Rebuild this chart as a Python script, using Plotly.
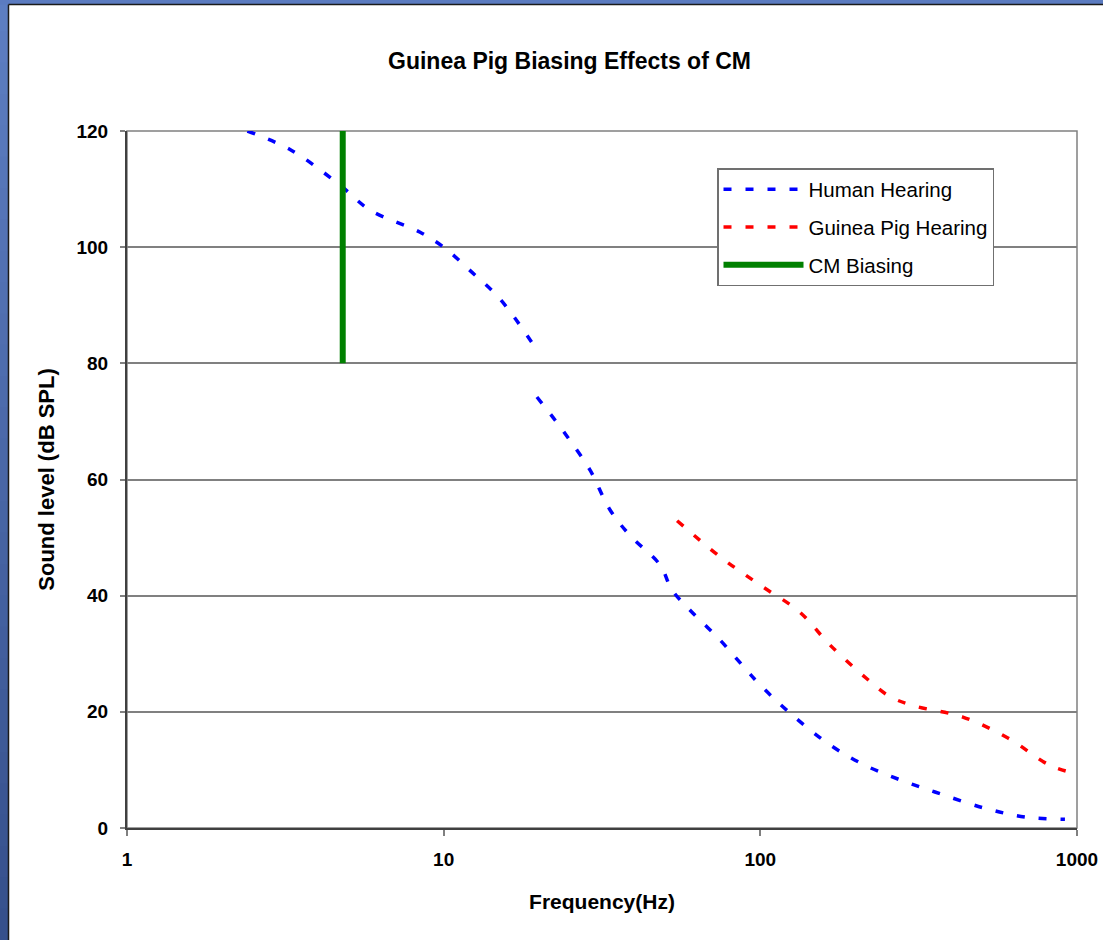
import plotly.graph_objects as go

# ---- data ----
human_freq = [2.4, 3.3, 4.7, 5.85, 8.4, 10, 12.1, 15.1, 19.7, None,
              19.7, 22.5, 25.0, 29.0, 33.5, 38.7, 48.2, 52.6, 60, 74.5,
              89.4, 100, 124, 166, 214, 276, 356, 512, 685, 916]
human_db = [120, 116.7, 110.7, 106.4, 102.6, 100, 96, 91, 82.3, None,
            74.2, 70.2, 66.8, 61.6, 54.8, 50.4, 45.3, 41, 37.5, 32.4,
            27.5, 24.6, 19.8, 14.3, 10.8, 8.3, 6.2, 3.4, 1.9, 1.5]

pig_freq = [54.6, 74.6, 100, 133, 166, 217, 257, 308, 436, 605, 821, 1000]
pig_db = [52.9, 46.7, 41.8, 37.2, 31.5, 25.7, 22.6, 21.0, 19.1, 15.5, 10.8, 9.3]

cm_freq = [4.8, 4.8]
cm_db = [80, 120]

x_ticks = [1, 10, 100, 1000]
x_ticktext = ["1", "10", "100", "1000"]

# ---- geometry helpers (pixel -> paper) ----
W, H = 1103, 940
L, R, T, B = 127, 26, 131, 112
PW, PH = W - L - R, H - T - B


def px(x):
    return (x - L) / PW


def py(y):
    return (H - B - y) / PH


FONT = "Liberation Sans, Arial, sans-serif"

fig = go.Figure()
fig.add_trace(go.Scatter(
    x=human_freq, y=human_db, mode="lines", name="Human Hearing",
    line=dict(color="#0000FF", width=3.5, dash="8px,14px", shape="spline"),
    connectgaps=False, legendgroup="a"))
fig.add_trace(go.Scatter(
    x=pig_freq, y=pig_db, mode="lines", name="Guinea Pig Hearing",
    line=dict(color="#FF0000", width=3.5, dash="8px,14px", shape="spline"),
    legendgroup="b"))
fig.add_trace(go.Scatter(
    x=cm_freq, y=cm_db, mode="lines", name="CM Biasing",
    line=dict(color="#008000", width=6), legendgroup="c"))

shapes = []
# left blue gradient strip
n = 30
c0 = (0x5d, 0x7e, 0xc2)
c1 = (0x36, 0x50, 0x8c)
for i in range(n):
    t = i / (n - 1)
    col = "rgb(%d,%d,%d)" % tuple(round(a + (b - a) * t) for a, b in zip(c0, c1))
    shapes.append(dict(type="rect", xref="paper", yref="paper",
                       x0=px(0), x1=px(8.5),
                       y0=py(H * i / n), y1=py(H * (i + 1) / n + 1),
                       fillcolor=col, line=dict(width=0), layer="below"))
# top blue strip
shapes.append(dict(type="rect", xref="paper", yref="paper",
                   x0=px(0), x1=px(W), y0=py(0), y1=py(4.5),
                   fillcolor="#5b7bc0", line=dict(width=0), layer="below"))
# black borders of the white panel
shapes.append(dict(type="line", xref="paper", yref="paper",
                   x0=px(8.5), x1=px(8.5), y0=py(4.5), y1=py(H),
                   line=dict(color="#1a1a1a", width=1.5), layer="below"))
shapes.append(dict(type="line", xref="paper", yref="paper",
                   x0=px(8.5), x1=px(W), y0=py(4.5), y1=py(4.5),
                   line=dict(color="#1a1a1a", width=1.5), layer="below"))
# plot area border (gray)
shapes.append(dict(type="rect", xref="paper", yref="paper",
                   x0=0, x1=1, y0=0, y1=1,
                   line=dict(color="#808080", width=1.5), layer="below"))

fig.update_layout(
    width=W, height=H,
    margin=dict(l=L, r=R, t=T, b=B, autoexpand=False),
    paper_bgcolor="white", plot_bgcolor="white",
    font=dict(family=FONT, color="black"),
    shapes=shapes,
    title=dict(text="<b>Guinea Pig Biasing Effects of CM</b>",
               font=dict(size=23, family=FONT, color="black"),
               x=px(569.5), xref="paper", xanchor="center",
               y=1 - 61 / H, yref="container", yanchor="middle"),
    xaxis=dict(type="log", range=[0, 3], automargin=False,
               tickvals=x_ticks, ticktext=x_ticktext,
               showgrid=False, zeroline=False,
               showline=True, linecolor="#404040", linewidth=2,
               ticks="outside", ticklen=6, tickcolor="#808080", tickwidth=1.5,
               ticklabelstandoff=7,
               tickfont=dict(size=19, family=FONT, color="black", weight="bold"),
               title=dict(text="<b>Frequency(Hz)</b>", standoff=26,
                          font=dict(size=21, family=FONT, color="black"))),
    yaxis=dict(range=[0, 120], dtick=20, automargin=False,
               showgrid=True, gridcolor="#808080", gridwidth=1.5,
               zeroline=False,
               showline=True, linecolor="#404040", linewidth=2,
               ticks="outside", ticklen=5, tickcolor="#808080", tickwidth=1.5,
               ticklabelstandoff=8,
               tickfont=dict(size=19, family=FONT, color="black", weight="bold"),
               title=dict(text="<b>Sound level (dB SPL)</b>", standoff=16,
                          font=dict(size=22, family=FONT, color="black"))),
    legend=dict(x=px(717), y=py(168), xanchor="left", yanchor="top",
                bgcolor="white", bordercolor="#707070", borderwidth=1.5,
                font=dict(size=20.5, family=FONT, color="black"),
                traceorder="grouped", tracegroupgap=8,
                itemwidth=80),
    showlegend=True,
)

fig.write_html("out.html")
